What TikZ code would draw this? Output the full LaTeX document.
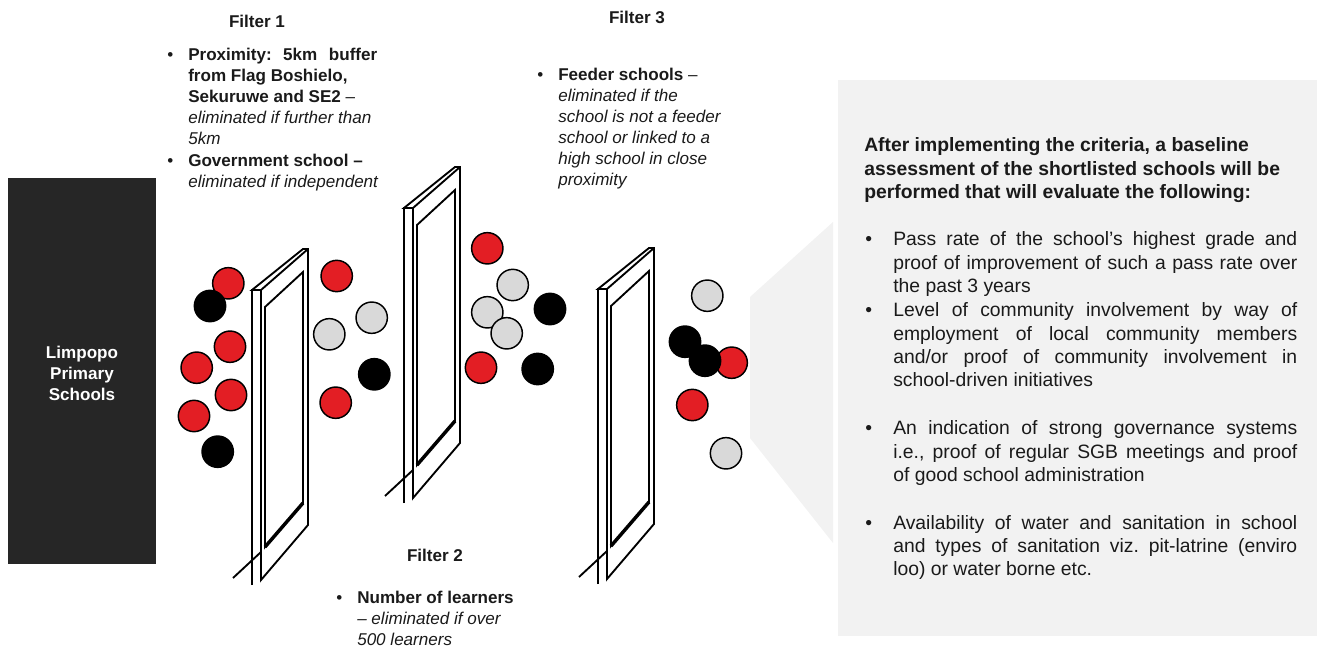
\documentclass[tikz,border=0pt]{standalone}
\usepackage{fontspec}
\setmainfont{Liberation Sans}
\frenchspacing
\newdimen\pxu \pxu=0.75pt
\definecolor{schred}{RGB}{227,30,36}
\definecolor{schgrey}{RGB}{217,217,217}
\definecolor{panelgrey}{RGB}{242,242,242}
\definecolor{boxdark}{RGB}{38,38,38}
\definecolor{txt}{RGB}{26,26,26}
\tikzset{
  frm/.style={line width=1.4pt, line join=miter, draw=black},
  ball/.style={circle, minimum size=23.5pt, inner sep=0pt, line width=1.1pt, draw=black},
  redc/.style={ball, fill=schred},
  greyc/.style={ball, fill=schgrey},
  blackc/.style={ball, fill=black},
  smalltxt/.style={inner sep=0pt, text=txt, font=\fontsize{12.8}{15.75}\selectfont},
  bigtxt/.style={inner sep=0pt, text=txt, font=\fontsize{14.5}{17.5}\selectfont},
}
\newcommand\filterframe[2]{%
\begin{scope}[shift={(#1,#2)}]
\fill[white] (0,0) -- (9,0) -- (9,290) -- (0,295) -- cycle;
\filldraw[frm, fill=white] (0,0) -- (51,-41) -- (56,-41) -- (56,235) -- (9,290) -- (9,0) -- cycle;
\draw[frm] (0,295) -- (0,0) -- (9,0);
\draw[frm] (9,0) -- (56,-41);
\draw[frm] (13,17) -- (51,-18) -- (51,213) -- (13,257) -- cycle;
\draw[line width=2.6pt] (51,213) -- (13,257);
\draw[frm] (-19,288) -- (9,262);
\end{scope}}
\begin{document}
\begin{tikzpicture}[x=0.75pt,y=-0.75pt]
\useasboundingbox (0,0) rectangle (1317,648);
% grey panel
\fill[panelgrey] (838,80) rectangle (1317,636);
\fill[panelgrey] (750,297) -- (833,222) -- (833,543) -- (750,438) -- cycle;
% source box
\fill[boxdark] (8,178) rectangle (156,564);
\node[inner sep=0pt, text=white, align=center, font=\bfseries\fontsize{12.8}{15.75}\selectfont] (src) at (82,373) {Limpopo\\Primary\\Schools};
% filters
\filterframe{252}{290}
\filterframe{404}{208}
\filterframe{598}{289}
% balls
\foreach \bx/\by/\bs [count=\i] in {
 228.3/283.3/redc, 210/306/blackc, 230/346.7/redc, 196.7/367.7/redc, 231/395/redc,
 194/416/redc, 217.7/451.7/blackc,
 336.7/276/redc, 371.7/317.7/greyc, 329.3/334.3/greyc, 374.3/374.3/blackc, 335.7/402.7/redc,
 487.3/248.3/redc, 512.7/285/greyc, 487.3/312.3/greyc, 506.7/333.3/greyc, 550/309/blackc,
 481/367.7/redc, 537.7/369/blackc,
 707.3/295.7/greyc, 731.7/362.7/redc, 685/341.7/blackc, 705/360.7/blackc, 692.3/405/redc,
 726/453.3/greyc}
 \node[\bs] (ball\i) at (\bx,\by) {};
% filter 1 text
\node[smalltxt, anchor=base, font=\bfseries\fontsize{12.8}{15.75}\selectfont] (f1title) at (257,28) {Filter 1};
\node[smalltxt, anchor=base west] (f1bul1) at (167,61) {\textbullet};
\node[smalltxt, anchor=base west] (f1txt1) at (188,61) {\parbox[t]{200\pxu}{\makebox[189\pxu][s]{\textbf{Proximity: 5km buffer}}\\
\textbf{from Flag Boshielo,}\\
\textbf{Sekuruwe and SE2} –\\
\textit{eliminated if further than}\\
\textit{5km}}};
\node[smalltxt, anchor=base west] (f1bul2) at (167,167) {\textbullet};
\node[smalltxt, anchor=base west] (f1txt2) at (188,167) {\parbox[t]{200\pxu}{\textbf{Government school –}\\
\textit{eliminated if independent}}};
% filter 2 text
\node[smalltxt, anchor=base, font=\bfseries\fontsize{12.8}{15.75}\selectfont] (f2title) at (435,561) {Filter 2};
\node[smalltxt, anchor=base west] (f2bul) at (336,603) {\textbullet};
\node[smalltxt, anchor=base west] (f2txt) at (357,603) {\parbox[t]{200\pxu}{\textbf{Number of learners}\\
\textit{– eliminated if over}\\
\textit{500 learners}}};
% filter 3 text
\node[smalltxt, anchor=base, font=\bfseries\fontsize{12.8}{15.75}\selectfont] (f3title) at (637,24) {Filter 3};
\node[smalltxt, anchor=base west] (f3bul) at (537,81) {\textbullet};
\node[smalltxt, anchor=base west] (f3txt) at (558,81) {\parbox[t]{200\pxu}{\textbf{Feeder schools} –\\
\textit{eliminated if the}\\
\textit{school is not a feeder}\\
\textit{school or linked to a}\\
\textit{high school in close}\\
\textit{proximity}}};
% right panel text
\node[bigtxt, anchor=base west, font=\bfseries\fontsize{14.5}{17.6}\selectfont] (head) at (864,152) {\parbox[t]{450\pxu}{After implementing the criteria, a baseline\\
assessment of the shortlisted schools will be\\
performed that will evaluate the following:}};
\node[bigtxt, anchor=base west] (b1) at (865,246) {\textbullet};
\node[bigtxt, anchor=base west] (p1) at (893,246) {\parbox[t]{404\pxu}{\makebox[404\pxu][s]{Pass rate of the school’s highest grade and}\\
\makebox[404\pxu][s]{proof of improvement of such a pass rate over}\\
the past 3 years}};
\node[bigtxt, anchor=base west] (b2) at (865,317) {\textbullet};
\node[bigtxt, anchor=base west] (p2) at (893,317) {\parbox[t]{404\pxu}{\makebox[404\pxu][s]{Level of community involvement by way of}\\
\makebox[404\pxu][s]{employment of local community members}\\
\makebox[404\pxu][s]{and/or proof of community involvement in}\\
school-driven initiatives}};
\node[bigtxt, anchor=base west] (b3) at (865,435) {\textbullet};
\node[bigtxt, anchor=base west] (p3) at (893,435) {\parbox[t]{404\pxu}{\makebox[404\pxu][s]{An indication of strong governance systems}\\
\makebox[404\pxu][s]{i.e., proof of regular SGB meetings and proof}\\
of good school administration}};
\node[bigtxt, anchor=base west] (b4) at (865,529) {\textbullet};
\node[bigtxt, anchor=base west] (p4) at (893,529) {\parbox[t]{404\pxu}{\makebox[404\pxu][s]{Availability of water and sanitation in school}\\
\makebox[404\pxu][s]{and types of sanitation viz. pit-latrine (enviro}\\
loo) or water borne etc.}};
\end{tikzpicture}
\end{document}
